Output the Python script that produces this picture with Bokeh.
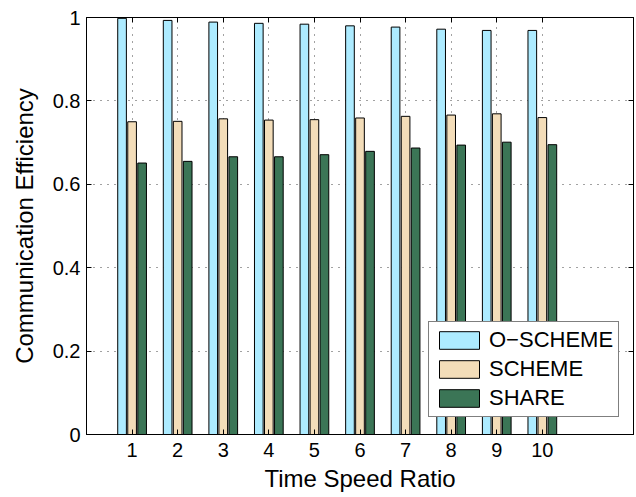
from bokeh.plotting import figure
from bokeh.models import (ColumnDataSource, FixedTicker, LinearAxis, Range1d,
                          Legend, LegendItem)
from bokeh.transform import dodge
from bokeh.embed import file_html
from bokeh.resources import INLINE

# ---- data ----
ratios = [1, 2, 3, 4, 5, 6, 7, 8, 9, 10]
o_scheme = [0.998, 0.993, 0.989, 0.986, 0.984, 0.980, 0.977, 0.972, 0.969, 0.969]
scheme = [0.750, 0.751, 0.757, 0.754, 0.755, 0.759, 0.763, 0.766, 0.769, 0.760]
share = [0.651, 0.655, 0.666, 0.666, 0.671, 0.679, 0.687, 0.694, 0.701, 0.695]
series_names = ["O\u2212SCHEME", "SCHEME", "SHARE"]
y_ticks = [0, 0.2, 0.4, 0.6, 0.8, 1.0]
y_tick_labels = {0: "0", 0.2: "0.2", 0.4: "0.4", 0.6: "0.6", 0.8: "0.8", 1.0: "1"}

colors = ["#ADEBFF", "#F3DDB9", "#3B7556"]
FONT = "Liberation Sans"

src = ColumnDataSource(dict(x=ratios, o=o_scheme, s=scheme, h=share))

p = figure(width=636, height=497, output_backend="svg", toolbar_location=None,
           x_range=Range1d(0, 12), y_range=Range1d(0, 1),
           min_border_left=86, min_border_right=3, min_border_top=17,
           min_border_bottom=63)
p.background_fill_color = "white"
p.border_fill_color = "white"
p.outline_line_color = "black"
p.outline_line_width = 1

bw = 0.19
r1 = p.vbar(x=dodge("x", -0.22, range=p.x_range), top="o", width=bw, source=src,
            fill_color=colors[0], line_color="black", line_width=1)
r2 = p.vbar(x=dodge("x", 0.0, range=p.x_range), top="s", width=bw, source=src,
            fill_color=colors[1], line_color="black", line_width=1)
r3 = p.vbar(x=dodge("x", 0.22, range=p.x_range), top="h", width=bw, source=src,
            fill_color=colors[2], line_color="black", line_width=1)

# axes
xa = p.xaxis[0]
xa.ticker = FixedTicker(ticks=ratios)
xa.axis_label = "Time Speed Ratio"
ya = p.yaxis[0]
ya.ticker = FixedTicker(ticks=y_ticks)
ya.major_label_overrides = y_tick_labels
ya.axis_label = "Communication Efficiency"
for ax in (xa, ya):
    ax.major_tick_in = 5
    ax.major_tick_out = 0
    ax.minor_tick_line_color = None
    ax.axis_line_color = "black"
    ax.major_tick_line_color = "black"
    ax.major_label_text_font = FONT
    ax.major_label_text_font_size = "20px"
    ax.major_label_text_color = "black"
    ax.axis_label_text_font = FONT
    ax.axis_label_text_font_size = "24px"
    ax.axis_label_text_font_style = "normal"
    ax.axis_label_text_color = "black"
xa.major_label_standoff = 8
xa.axis_label_standoff = 5
ya.major_label_standoff = 6
ya.axis_label_standoff = 12

top_ax = LinearAxis(ticker=FixedTicker(ticks=ratios), major_label_text_color=None,
                    major_label_text_font_size="1px",
                    major_tick_in=5, major_tick_out=0, minor_tick_line_color=None,
                    axis_line_color="black", major_label_standoff=0)
right_ax = LinearAxis(ticker=FixedTicker(ticks=y_ticks), major_label_text_color=None,
                      major_label_text_font_size="1px",
                      major_tick_in=5, major_tick_out=0, minor_tick_line_color=None,
                      axis_line_color="black", major_label_standoff=0)
p.add_layout(top_ax, "above")
p.add_layout(right_ax, "right")

# grid
for g in (p.xgrid[0], p.ygrid[0]):
    g.grid_line_color = "#444444"
    g.grid_line_dash = "1 6"
    g.grid_line_width = 1
p.xgrid[0].ticker = FixedTicker(ticks=ratios)
p.ygrid[0].ticker = FixedTicker(ticks=y_ticks)

legend = Legend(items=[LegendItem(label=series_names[0], renderers=[r1]),
                       LegendItem(label=series_names[1], renderers=[r2]),
                       LegendItem(label=series_names[2], renderers=[r3])],
                location=(342, 17))
legend.glyph_width = 50
legend.glyph_height = 22
legend.label_height = 22
legend.spacing = 3
legend.padding = 5
legend.margin = 0
legend.label_standoff = 5
legend.label_text_font = FONT
legend.label_text_font_size = "22px"
legend.label_text_color = "black"
legend.border_line_color = "black"
legend.border_line_width = 1
legend.background_fill_color = "white"
legend.background_fill_alpha = 1
p.add_layout(legend, "center")

open("out.html", "w").write(file_html(p, INLINE))
